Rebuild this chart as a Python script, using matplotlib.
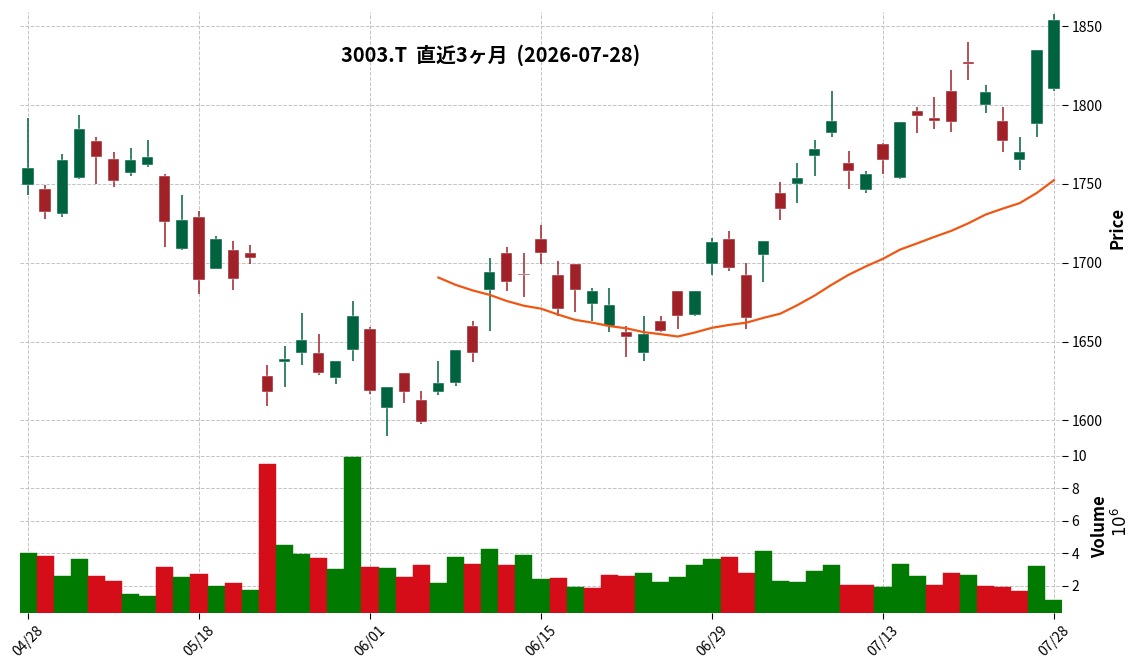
import numpy as np
import pandas as pd
import matplotlib
matplotlib.use('Agg')
import matplotlib.pyplot as plt

plt.rcParams['font.family'] = ['Noto Sans CJK JP', 'DejaVu Sans']

# trading days (2026), one candle each
dates = ['04/28', '04/30', '05/01', '05/07', '05/08', '05/11', '05/12', '05/13', '05/14', '05/15',
         '05/18', '05/19', '05/20', '05/21', '05/22', '05/25', '05/26', '05/27', '05/28', '05/29',
         '06/01', '06/02', '06/03', '06/04', '06/05', '06/08', '06/09', '06/10', '06/11', '06/12',
         '06/15', '06/16', '06/17', '06/18', '06/19', '06/22', '06/23', '06/24', '06/25', '06/26',
         '06/29', '06/30', '07/01', '07/02', '07/03', '07/06', '07/07', '07/08', '07/09', '07/10',
         '07/13', '07/14', '07/15', '07/16', '07/17', '07/21', '07/22', '07/23', '07/24', '07/27',
         '07/28']

opens = [1749, 1747, 1731, 1754, 1777, 1766, 1757, 1762, 1755, 1709,
         1729, 1696, 1708, 1706, 1628, 1637, 1643, 1643, 1627, 1645,
         1658, 1608, 1630, 1613, 1618, 1624, 1660, 1683, 1706, 1693,
         1715, 1692, 1699, 1674, 1660, 1656, 1643, 1663, 1682, 1667,
         1699, 1715, 1692, 1705, 1744, 1750, 1768, 1782, 1763, 1746,
         1775, 1754, 1796, 1792, 1809, 1827, 1800, 1790, 1765, 1788,
         1810]
highs = [1792, 1749, 1769, 1794, 1780, 1770, 1773, 1778, 1756, 1743,
         1733, 1717, 1714, 1711, 1635, 1647, 1668, 1655, 1638, 1676,
         1659, 1621, 1630, 1619, 1638, 1645, 1663, 1703, 1710, 1706,
         1724, 1701, 1699, 1684, 1684, 1660, 1666, 1666, 1682, 1682,
         1716, 1720, 1700, 1714, 1751, 1763, 1778, 1809, 1771, 1758,
         1776, 1789, 1799, 1805, 1822, 1840, 1813, 1799, 1780, 1835,
         1858]
lows = [1743, 1728, 1729, 1753, 1750, 1748, 1755, 1761, 1710, 1708,
        1680, 1696, 1683, 1699, 1609, 1621, 1635, 1629, 1623, 1638,
        1617, 1590, 1611, 1598, 1616, 1622, 1637, 1657, 1682, 1678,
        1699, 1666, 1669, 1663, 1656, 1640, 1638, 1656, 1658, 1666,
        1692, 1695, 1658, 1688, 1727, 1738, 1755, 1780, 1747, 1744,
        1756, 1753, 1782, 1785, 1783, 1816, 1795, 1770, 1759, 1780,
        1809]
closes = [1760, 1732, 1765, 1785, 1767, 1752, 1765, 1767, 1726, 1727,
          1689, 1715, 1690, 1703, 1618, 1639, 1651, 1630, 1638, 1666,
          1619, 1621, 1618, 1599, 1624, 1645, 1643, 1694, 1688, 1692,
          1706, 1671, 1683, 1682, 1673, 1653, 1655, 1657, 1666, 1682,
          1713, 1697, 1665, 1714, 1734, 1754, 1772, 1790, 1758, 1756,
          1765, 1789, 1793, 1790, 1789, 1826, 1808, 1777, 1770, 1835,
          1854]
# volume in millions of shares
volume_m = [4.04, 3.86, 2.58, 3.62, 2.58, 2.27, 1.48, 1.36, 3.13, 2.52,
            2.70, 1.97, 2.15, 1.73, 9.47, 4.53, 3.98, 3.74, 3.01, 9.90,
            3.13, 3.07, 2.52, 3.31, 2.15, 3.80, 3.37, 4.29, 3.31, 3.92,
            2.40, 2.46, 1.91, 1.85, 2.64, 2.58, 2.82, 2.21, 2.52, 3.31,
            3.68, 3.80, 2.76, 4.17, 2.27, 2.21, 2.94, 3.31, 2.03, 2.03,
            1.91, 3.37, 2.58, 2.03, 2.76, 2.64, 1.97, 1.91, 1.66, 3.19,
            1.12]

title = '3003.T  直近3ヶ月  (2026-07-28)'
up_col, down_col = '#006340', '#a02128'
vol_up, vol_down = '#007a00', '#d50d18'
grid_kw = dict(color='#c4c4c4', linestyle='--', linewidth=0.7)

o = np.array(opens, float)
h = np.array(highs, float)
l = np.array(lows, float)
c = np.array(closes, float)
v = np.array(volume_m, float)
x = np.arange(len(dates))

fig = plt.figure(figsize=(11.44, 6.70), dpi=100)
W, H = 1144, 670
left, right = 20 / W, 1062 / W
ax = fig.add_axes([left, 229 / H, right - left, (658 - 229) / H])
axv = fig.add_axes([left, 57 / H, right - left, (229 - 57) / H], sharex=ax)

# candles
ccol = np.where(c >= o, up_col, down_col)
ax.vlines(x, l, h, colors=ccol, linewidth=1.1, zorder=3)
body = np.maximum(np.abs(c - o), 0.6)
ax.bar(x, body, bottom=np.minimum(o, c), width=0.66, color=ccol,
       edgecolor='white', linewidth=0.3, zorder=4)

# 25 day moving average
mav = pd.Series(c).rolling(25).mean()
ax.plot(x, mav, color='#ef5714', linewidth=1.6, zorder=5)

# volume, coloured against previous close
prev = np.r_[c[0], c[:-1]]
vcol = np.where(c >= prev, vol_up, vol_down)
axv.bar(x, v, width=1.0, color=vcol, edgecolor=vcol, linewidth=0.3, zorder=3)

ax.set_xlim(-0.47, len(x) - 0.53)
ax.set_ylim(1587, 1859)
axv.set_ylim(0.3 * v.min(), 1.1 * v.max())

ticks = x[::10]
for a in (ax, axv):
    a.grid(True, **grid_kw)
    a.set_axisbelow(True)
    for s in a.spines.values():
        s.set_visible(False)
    a.yaxis.tick_right()
    a.tick_params(axis='y', labelsize=10, length=4, width=0.8, pad=3)
    a.set_xticks(ticks)

ax.set_yticks([1600, 1650, 1700, 1750, 1800, 1850])
ax.tick_params(axis='x', bottom=False, labelbottom=False)
axv.set_yticks([2, 4, 6, 8, 10])
axv.set_xticklabels([dates[i] for i in ticks])
axv.tick_params(axis='x', labelsize=10, length=4, width=0.8, labelrotation=45)

fig.text(1118 / W, 1 - 228 / H, 'Price', rotation=90, ha='center', va='center',
         fontsize=12, fontweight='bold')
fig.text(1100 / W, 1 - 527 / H, 'Volume', rotation=90, ha='center', va='center',
         fontsize=12, fontweight='bold')
fig.text(1121 / W, 1 - 522 / H, r'$10^6$', rotation=90, ha='center', va='center',
         fontsize=12)
fig.text(491 / W, 1 - 55 / H, title, ha='center', va='center',
         fontsize=14.3, fontweight='bold')

fig.savefig('out.png', dpi=100)
